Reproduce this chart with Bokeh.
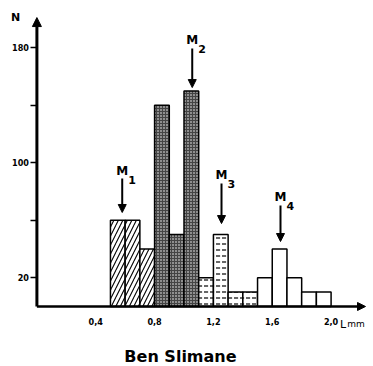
from bokeh.plotting import figure
from bokeh.models import Arrow, NormalHead, Label, FixedTicker, Range1d, ColumnDataSource
from bokeh.embed import file_html
from bokeh.resources import INLINE

# ---- data ----
bin_left = [0.5, 0.6, 0.7, 0.8, 0.9, 1.0, 1.1, 1.2, 1.3, 1.4, 1.5, 1.6, 1.7, 1.8, 1.9]
bin_width = 0.1
counts = [60, 60, 40, 140, 50, 150, 20, 50, 10, 10, 20, 40, 20, 10, 10]
group = ["M1"] * 3 + ["M2"] * 3 + ["M3"] * 4 + ["M4"] * 5

mode_names = ["M", "M", "M", "M"]
mode_subs = ["1", "2", "3", "4"]
mode_x = [0.58, 1.056, 1.255, 1.656]
arrow_top = [89, 179.5, 85.6, 70.3]
arrow_tip = [65.4, 152.3, 57.7, 45.2]

y_ticks = [20, 60, 100, 140, 180]
y_tick_labels = {20: "20", 60: "", 100: "100", 140: "", 180: "180"}
x_ticks = [0.4, 0.8, 1.2, 1.6, 2.0]
x_tick_labels = {0.4: "0,4", 0.8: "0,8", 1.2: "1,2", 1.6: "1,6", 2.0: "2,0"}

title_text = "Ben Slimane"
y_name = "N"
x_name = "L"
x_unit = "mm"

# ---- figure ----
p = figure(width=373, height=366, x_range=Range1d(-0.2475, 2.2883), y_range=Range1d(-41.74, 212.87),
           toolbar_location=None, output_backend="svg", min_border=0)
p.outline_line_color = None
p.grid.visible = False
p.background_fill_color = "white"
p.border_fill_color = "white"

styles = {
    "M1": dict(fill_color="white", hatch_pattern="/", hatch_color="black", hatch_scale=9, hatch_weight=1.1),
    "M2": dict(fill_color="#444444", hatch_pattern=".", hatch_color="white", hatch_scale=3, hatch_weight=1),
    "M3": dict(fill_color="white", hatch_pattern='"', hatch_color="black", hatch_scale=6, hatch_weight=1.2),
    "M4": dict(fill_color="white"),
}
for g, st in styles.items():
    idx = [i for i, gg in enumerate(group) if gg == g]
    src = ColumnDataSource(dict(
        left=[bin_left[i] for i in idx],
        right=[bin_left[i] + bin_width for i in idx],
        top=[counts[i] for i in idx],
        bottom=[0] * len(idx),
    ))
    p.quad(left="left", right="right", top="top", bottom="bottom", source=src,
           line_color="black", line_width=1.5, **st)

# axes drawn at the data origin
ax = p.yaxis[0]
ax.fixed_location = 0
ax.ticker = FixedTicker(ticks=y_ticks)
ax.major_label_overrides = y_tick_labels
ax.axis_line_color = None
ax.major_tick_in = 0
ax.major_tick_out = 6
ax.major_tick_line_width = 1.5
ax.major_tick_line_color = "black"
ax.minor_tick_line_color = None
ax.major_label_standoff = 2
ax.major_label_text_font = "DejaVu Sans Condensed"
ax.major_label_text_font_style = "bold"
ax.major_label_text_font_size = "9px"
ax.major_label_text_color = "black"

bx = p.xaxis[0]
bx.fixed_location = 0
bx.ticker = FixedTicker(ticks=x_ticks)
bx.major_label_overrides = x_tick_labels
bx.axis_line_color = None
bx.major_tick_line_color = None
bx.minor_tick_line_color = None
bx.major_label_standoff = 6
bx.major_label_text_font = "DejaVu Sans Condensed"
bx.major_label_text_font_style = "bold"
bx.major_label_text_font_size = "9px"
bx.major_label_text_color = "black"

# axis lines with arrows
p.add_layout(Arrow(x_start=0, y_start=0, x_end=0, y_end=201, line_width=3,
                   end=NormalHead(size=9, fill_color="black", line_color="black")))
p.add_layout(Arrow(x_start=0, y_start=0, x_end=2.234, y_end=0, line_width=2.5,
                   end=NormalHead(size=8, fill_color="black", line_color="black")))

# mode arrows and labels
for name, sub, mx, t, tip in zip(mode_names, mode_subs, mode_x, arrow_top, arrow_tip):
    p.add_layout(Arrow(x_start=mx, y_start=t, x_end=mx, y_end=tip, line_width=2,
                       end=NormalHead(size=8, fill_color="black", line_color="black")))
    p.add_layout(Label(x=mx, y=t, text=name, text_align="center", text_baseline="bottom",
                       y_offset=1, text_font="DejaVu Sans", text_font_style="bold",
                       text_font_size="12px", text_color="black"))
    p.add_layout(Label(x=mx, y=t, text=sub, text_align="left", text_baseline="bottom",
                       x_offset=6, y_offset=-5, text_font="DejaVu Sans", text_font_style="bold",
                       text_font_size="11px", text_color="black"))

p.add_layout(Label(x=-0.145, y=201, text=y_name, text_align="center", text_baseline="middle",
                   text_font="DejaVu Sans", text_font_style="bold", text_font_size="11px",
                   text_color="black"))
p.add_layout(Label(x=2.06, y=-12.5, text=x_name, text_align="left", text_baseline="alphabetic",
                   text_font="DejaVu Sans", text_font_size="11px", text_color="black"))
p.add_layout(Label(x=2.11, y=-12.5, text=x_unit, text_align="left", text_baseline="alphabetic",
                   text_font="DejaVu Sans", text_font_size="9px", text_color="black"))
p.add_layout(Label(x=0.976, y=-34.8, text=title_text, text_align="center", text_baseline="middle",
                   text_font="DejaVu Sans", text_font_style="bold", text_font_size="16px",
                   text_color="black"))

open("out.html", "w").write(file_html(p, INLINE))
